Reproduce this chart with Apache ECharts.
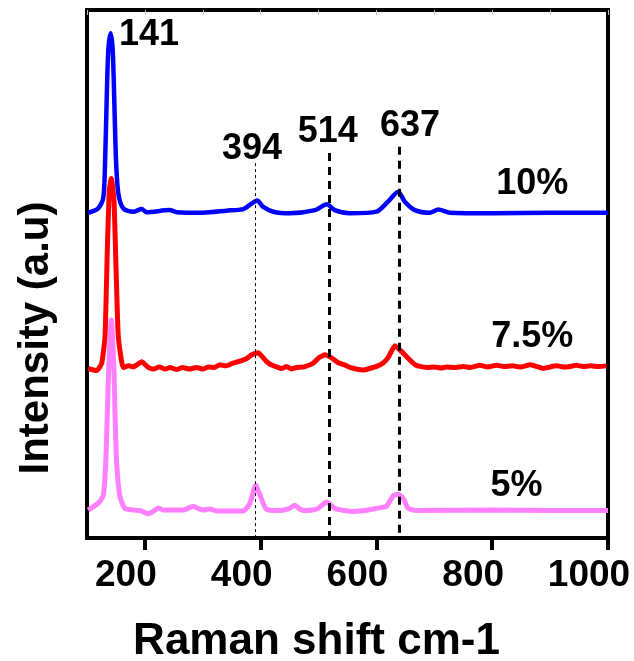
<!DOCTYPE html>
<html>
<head>
<meta charset="utf-8">
<script src="https://cdn.jsdelivr.net/npm/echarts@6/dist/echarts.min.js"></script>
<style>
  html, body { margin: 0; padding: 0; background: #fff; }
  #chart { width: 634px; height: 661px; }
</style>
</head>
<body>
<div id="chart"></div>
<script>
// spectra: [Raman shift, intensity]
var blue10 = [
  [102, 61.6], [119, 62.4], [128, 64.3], [131, 70.3], [134, 83.0], [136.8, 92.4], [140.9, 95.6],
  [144.4, 92.4], [147.1, 83.0], [150.1, 71.6], [154.1, 65.3], [162.7, 62.4], [180, 61.8],
  [194.5, 62.3], [203, 61.7], [243, 62.1], [255, 61.7], [300, 61.6], [341, 62.0], [370, 62.3],
  [384, 63.3], [394, 63.9], [404.5, 62.7], [421.7, 61.8], [450, 61.5], [494, 62.1], [514, 63.2],
  [528, 62.1], [554, 61.5], [600, 61.8], [620, 63.7], [637.6, 65.6], [649, 63.7], [666.5, 62.1],
  [692, 61.6], [706.7, 62.2], [727, 61.6], [800, 61.5], [900, 61.6], [1000, 61.6]
];
var red75 = [
  [102, 32.1], [116.8, 31.7], [125.4, 33.1], [131.1, 38.1], [135.1, 54.5], [138.5, 65.9], [142, 68.1],
  [146.6, 64.0], [150.1, 51.4], [154.1, 38.1], [162.7, 32.3], [172, 32.6], [180, 32.4], [194.5, 33.4],
  [205.9, 32.3], [215, 32.0], [225, 32.4], [235, 32.0], [243.3, 32.3], [255, 31.9], [265, 32.3],
  [277, 32.0], [289.4, 32.3], [300, 32.0], [310, 32.4], [320, 32.3], [329.7, 32.8], [340, 32.6],
  [352, 33.1], [364.2, 33.5], [376, 34.0], [384.4, 34.7], [395.8, 35.1], [403, 34.3], [410.3, 33.4],
  [418, 32.8], [427.6, 32.4], [436, 32.1], [445, 32.5], [453, 32.0], [462.2, 32.3], [475, 32.4],
  [490.8, 33.1], [501, 34.2], [511, 34.7], [522.6, 34.1], [534, 33.2], [545, 32.8], [554.2, 32.3],
  [565, 32.0], [577.2, 31.8], [588, 32.1], [600.3, 32.5], [612, 33.2], [620.4, 34.2], [631.9, 36.4],
  [643.5, 35.3], [657.8, 33.7], [666, 32.9], [675.1, 32.5], [688, 32.3], [700, 32.4], [712, 32.2],
  [721.2, 32.4], [735, 32.3], [750, 32.5], [762, 32.3], [778.7, 32.7], [792, 32.4], [807.5, 32.7],
  [820, 32.5], [835, 32.6], [850, 32.4], [865.1, 32.8], [876, 32.5], [888.1, 32.1], [900, 32.4],
  [912, 32.6], [922.6, 32.4], [935, 32.5], [945, 32.7], [957.1, 32.5], [970, 32.6], [984, 32.5],
  [997.5, 32.6]
];
var pink5 = [
  [102, 5.3], [119.5, 6.6], [128.2, 8.1], [132.3, 14.1], [135.1, 23.6], [137.5, 31.8], [142, 41.3],
  [146.6, 31.8], [148.4, 23.6], [151.3, 14.1], [157, 7.8], [165.6, 5.6], [180, 5.3], [191.5, 5.2],
  [205.9, 4.6], [215, 5.1], [223.1, 5.7], [231, 5.3], [237.6, 5.3], [266.3, 5.3], [283.6, 6.0],
  [292, 5.6], [300.9, 5.3], [312.4, 5.5], [324, 5.1], [345, 5.1], [369.9, 5.1], [381.5, 6.6],
  [391.3, 10.0], [400, 7.8], [410.3, 5.4], [433.3, 5.2], [448, 5.5], [459.2, 6.2], [467, 5.5],
  [476.5, 5.2], [490, 5.3], [499.5, 5.6], [514, 6.8], [528.3, 5.6], [545, 5.2], [559.9, 5.0],
  [578, 5.2], [594.5, 5.5], [610, 5.8], [617.6, 6.0], [629, 8.0], [637.6, 8.3], [646.2, 7.5],
  [654.9, 5.6], [669.4, 5.2], [800, 5.3], [900, 5.2], [1000, 5.2]
];

// reference lines: [shift, top of line]
var peakLines = [[390, 71.0], [518, 72.9], [640, 74.1]];
var annotations = [
  { name: '141', value: [207, 95.3] },
  { name: '394', value: [385, 73.6] },
  { name: '514', value: [516, 76.8] },
  { name: '637', value: [658, 78.1] },
  { name: '10%', value: [869, 67.1] },
  { name: '7.5%', value: [869, 38.0] },
  { name: '5%', value: [842, 9.9] }
];
var xTicks = [200, 400, 600, 800, 1000];

var font = 'Liberation Sans, Arial, sans-serif';

var chart = echarts.init(document.getElementById('chart'));
var option = {
  backgroundColor: '#fff',
  animation: false,
  grid: {
    left: 87, right: 26, top: 10, bottom: 123,
    containLabel: false, outerBoundsMode: 'none',
    show: true, borderWidth: 4, borderColor: '#000'
  },
  xAxis: [{
    type: 'value',
    min: 100, max: 1000,
    name: 'Raman shift cm-1',
    nameLocation: 'middle',
    nameGap: 82,
    nameTextStyle: { fontSize: 44, fontWeight: 'bold', color: '#000', fontFamily: font, padding: [0, 62, 0, 0] },
    axisLine: { show: true, lineStyle: { color: '#000', width: 4 } },
    axisTick: { show: true, customValues: xTicks, length: 12, lineStyle: { color: '#000', width: 4 } },
    axisLabel: {
      customValues: xTicks, margin: 19, fontSize: 37, fontWeight: 'bold', color: '#000',
      fontFamily: font,
      // labels sit a little left of their ticks, as in the original
      formatter: function (v) { return v + '{s|}'; },
      rich: { s: { width: 38 } }
    },
    splitLine: { show: false }
  }, {
    type: 'value',
    position: 'top',
    min: 100, max: 1000, interval: 100,
    axisLine: { show: false },
    axisTick: { show: true, inside: true, length: 5, lineStyle: { color: '#bbb', width: 1 } },
    axisLabel: { show: false },
    splitLine: { show: false }
  }],
  yAxis: {
    type: 'value',
    min: 0, max: 100,
    name: 'Intensity (a.u)',
    nameLocation: 'middle',
    nameGap: 30,
    nameTextStyle: { fontSize: 42, fontWeight: 'bold', color: '#000', fontFamily: font, padding: [0, 128, 0, 0] },
    axisLine: { show: false },
    axisTick: { show: false },
    axisLabel: { show: false },
    splitLine: { show: false }
  },
  series: [
    {
      name: '10%', type: 'line', data: blue10, showSymbol: false, smooth: 0.25,
      lineStyle: { color: '#0000ff', width: 4.5 }
    },
    {
      name: '7.5%', type: 'line', data: red75, showSymbol: false, smooth: 0.15,
      lineStyle: { color: '#ff0000', width: 5 }
    },
    {
      name: '5%', type: 'line', data: pink5, showSymbol: false, smooth: 0.2,
      lineStyle: { color: '#ff80ff', width: 5 },
      markLine: {
        silent: true, symbol: 'none', label: { show: false },
        data: peakLines.map(function (p, i) {
          return [
            { coord: [p[0], p[1]], lineStyle: { color: '#000', width: i === 0 ? 1 : 3, type: i === 0 ? [3, 3] : [8, 6] } },
            { coord: [p[0], 0] }
          ];
        })
      }
    },
    {
      type: 'scatter', data: annotations, symbolSize: 0, silent: true,
      itemStyle: { opacity: 1 },
      label: {
        show: true, position: 'inside', formatter: '{b}',
        fontSize: 36, fontWeight: 'bold', color: '#000', fontFamily: font,
        textBorderWidth: 0, textBorderColor: 'transparent'
      }
    }
  ]
};
chart.setOption(option);
</script>
</body>
</html>
